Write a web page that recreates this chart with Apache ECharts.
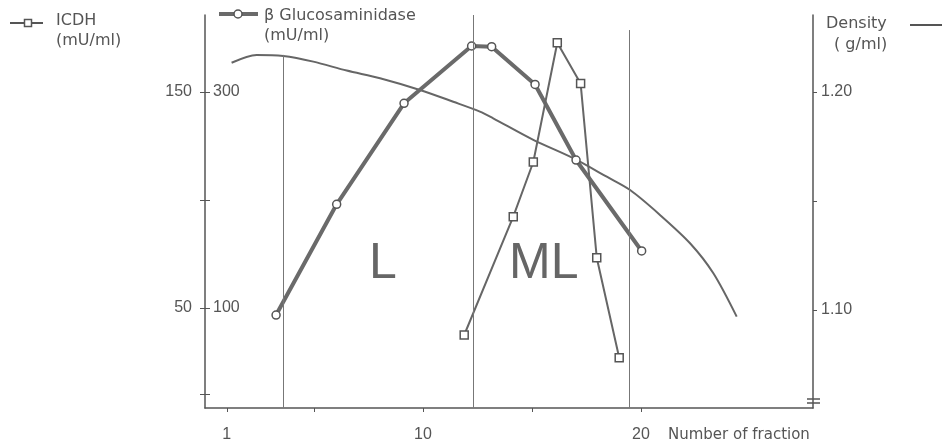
<!DOCTYPE html>
<html>
<head>
<meta charset="utf-8">
<script src="https://cdn.jsdelivr.net/npm/echarts@6/dist/echarts.min.js"></script>
<style>
  html, body { margin: 0; padding: 0; background: #fff; }
  #chart { width: 949px; height: 446px; }
</style>
</head>
<body>
<div id="chart"></div>
<script>
// values, x = number of fraction
const glucFraction = [3.26, 6.04, 9.13, 12.23, 13.15, 15.14, 17.02, 20.03]
const glucValues = [93.5, 196, 289.5, 342.6, 342, 307, 237, 152.8]
const icdhFraction = [11.89, 14.14, 15.06, 16.16, 17.23, 17.97, 19.0]
const icdhValues = [37.5, 92.3, 117.6, 172.8, 154, 73.3, 27]
const densityFraction = [1.22, 2.37, 3.59, 4.97, 6.50, 8.03, 9.86, 11.39, 12.61, 13.22, 15.06, 16.89, 18.43, 19.5, 20.87, 22.25, 23.32, 24.39]
const densityValues = [1.2134, 1.2170, 1.2165, 1.2139, 1.2098, 1.2063, 1.2009, 1.1955, 1.1910, 1.1879, 1.1780, 1.1696, 1.1611, 1.1550, 1.1436, 1.1306, 1.1168, 1.0969]

// region dividers (fraction, top in density units)
const dividerFraction = [3.58, 12.29, 19.45]
const dividerTop = [1.217, 1.2353, 1.2284]

// tick labels
const fractionLabels = [1, 10, 20]
const fractionTicks = [1, 5, 10, 15, 20]
const icdhLabels = [50, 150]
const icdhTicks = [10, 50, 100, 150]
const glucLabels = [100, 300]
const glucTicks = [20, 100, 200, 300]
const densityLabels = [1.10, 1.20]
const densityTicks = [1.10, 1.15, 1.20]

const ink = '#555'
const numFont = 'Liberation Sans'
const textFont = 'DejaVu Sans'

function zip(xs, ys) {
  return xs.map((x, i) => [x, ys[i]])
}

const chart = echarts.init(document.getElementById('chart'), null, { renderer: 'canvas' })

chart.setOption({
  animation: false,
  backgroundColor: '#fff',
  grid: {
    left: 205,
    right: 136,
    top: 15,
    bottom: 38,
    containLabel: false,
    outerBoundsMode: 'none'
  },
  xAxis: {
    type: 'value',
    min: 0,
    max: 27.89,
    axisLine: { lineStyle: { color: ink, width: 1.5 } },
    axisTick: { show: true, length: 4, customValues: fractionTicks, lineStyle: { color: ink } },
    axisLabel: { customValues: fractionLabels, margin: 19, color: ink, fontSize: 16, fontFamily: numFont },
    splitLine: { show: false }
  },
  yAxis: [
    {
      // ICDH
      type: 'value',
      position: 'left',
      min: 3.70,
      max: 185.66,
      axisLine: { show: true, lineStyle: { color: ink, width: 1.5 } },
      axisTick: { show: true, length: 5, customValues: icdhTicks, lineStyle: { color: ink } },
      axisLabel: { customValues: icdhLabels, margin: 13, color: ink, fontSize: 16, fontFamily: numFont },
      splitLine: { show: false }
    },
    {
      // beta glucosaminidase, same line, labels inside
      type: 'value',
      position: 'left',
      min: 7.41,
      max: 371.3,
      axisLine: { show: false },
      axisTick: { show: true, inside: true, length: 5, customValues: glucTicks, lineStyle: { color: ink } },
      axisLabel: { inside: true, customValues: glucLabels, margin: 8, color: ink, fontSize: 16, fontFamily: numFont },
      splitLine: { show: false }
    },
    {
      // density
      type: 'value',
      position: 'right',
      min: 1.055,
      max: 1.2353,
      axisLine: { show: true, lineStyle: { color: ink, width: 1.5 } },
      axisTick: { show: true, length: 4, customValues: densityTicks, lineStyle: { color: ink } },
      axisLabel: {
        customValues: densityLabels,
        margin: 8,
        color: ink,
        fontSize: 16,
        fontFamily: numFont,
        formatter: v => v.toFixed(2)
      },
      splitLine: { show: false }
    }
  ],
  graphic: [
    // ICDH legend
    { type: 'line', shape: { x1: 10, y1: 23, x2: 43, y2: 23 }, style: { stroke: ink, lineWidth: 2 } },
    { type: 'rect', shape: { x: 24.5, y: 19.5, width: 7, height: 7 }, style: { fill: '#fff', stroke: ink, lineWidth: 1.5 } },
    { type: 'text', left: 56, top: 11, style: { text: 'ICDH\n(mU/ml)', fill: ink, font: '16px ' + textFont, lineHeight: 20 } },
    // glucosaminidase legend
    { type: 'line', shape: { x1: 219, y1: 14, x2: 258, y2: 14 }, style: { stroke: '#6a6a6a', lineWidth: 4 } },
    { type: 'circle', shape: { cx: 238, cy: 14, r: 4 }, style: { fill: '#fff', stroke: ink, lineWidth: 1.5 } },
    { type: 'text', left: 264, top: 6, style: { text: 'β Glucosaminidase\n(mU/ml)', fill: ink, font: '16px ' + textFont, lineHeight: 20 } },
    // density legend
    { type: 'text', left: 826, top: 16, style: { text: 'Density', fill: ink, font: '16px ' + textFont } },
    { type: 'text', left: 834, top: 37, style: { text: '( g/ml)', fill: ink, font: '16px ' + textFont } },
    { type: 'line', shape: { x1: 910, y1: 25, x2: 942, y2: 25 }, style: { stroke: ink, lineWidth: 2 } },
    // axis break on the density axis
    { type: 'line', shape: { x1: 807, y1: 399, x2: 820, y2: 399 }, style: { stroke: ink, lineWidth: 1.5 } },
    { type: 'line', shape: { x1: 807, y1: 403, x2: 820, y2: 403 }, style: { stroke: ink, lineWidth: 1.5 } },
    // region names
    { type: 'text', left: 369, top: 239, style: { text: 'L', fill: '#666', font: '50px ' + numFont } },
    { type: 'text', left: 509, top: 239, style: { text: 'ML', fill: '#666', font: '50px ' + numFont } },
    // x axis name
    { type: 'text', left: 668, top: 428, style: { text: 'Number of fraction', fill: ink, font: '15px ' + textFont } }
  ],
  series: [
    {
      name: 'Density',
      type: 'line',
      yAxisIndex: 2,
      smooth: 0.3,
      showSymbol: false,
      lineStyle: { color: '#666', width: 2 },
      data: zip(densityFraction, densityValues),
      markLine: {
        silent: true,
        symbol: 'none',
        label: { show: false },
        lineStyle: { color: '#777', width: 1, type: 'solid' },
        data: dividerFraction.map((f, i) => [
          { coord: [f, dividerTop[i]] },
          { coord: [f, 1.055] }
        ])
      }
    },
    {
      name: 'β Glucosaminidase',
      type: 'line',
      yAxisIndex: 1,
      symbol: 'circle',
      symbolSize: 8,
      lineStyle: { color: '#6a6a6a', width: 4 },
      itemStyle: { color: '#fff', borderColor: ink, borderWidth: 1.5 },
      data: zip(glucFraction, glucValues)
    },
    {
      name: 'ICDH',
      type: 'line',
      yAxisIndex: 0,
      symbol: 'rect',
      symbolSize: 8,
      lineStyle: { color: '#666', width: 2 },
      itemStyle: { color: '#fff', borderColor: ink, borderWidth: 1.5 },
      data: zip(icdhFraction, icdhValues)
    }
  ]
})
</script>
</body>
</html>
